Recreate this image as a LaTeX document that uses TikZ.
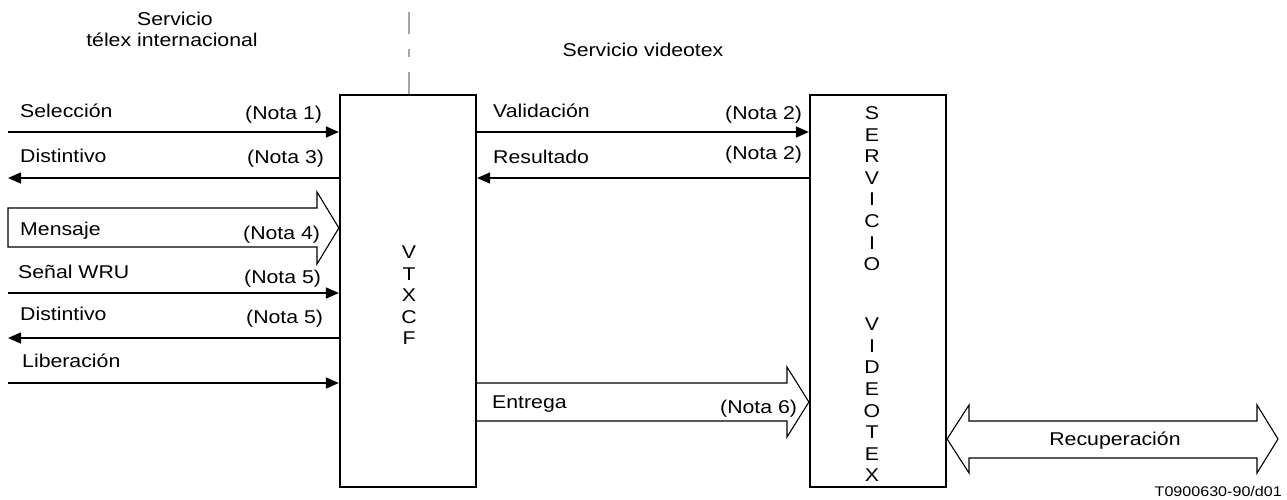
\documentclass[tikz,border=0pt]{standalone}
\usepackage{fontspec}
\setmainfont[FakeStretch=1.15]{Liberation Sans}
\usetikzlibrary{arrows.meta}
\begin{document}
\begin{tikzpicture}[x=1pt,y=-1pt,
  lbl/.style={inner sep=0pt,anchor=base west,font=\fontsize{18.5}{21.6}\selectfont},
  lblc/.style={inner sep=0pt,anchor=base,font=\fontsize{18.5}{21.6}\selectfont},
  stack/.style={inner sep=0pt,anchor=north,align=center,font=\fontsize{18.5}{21.6}\selectfont},
  boxnode/.style={draw,line width=2.2pt,minimum width=136pt,minimum height=392pt,inner sep=0pt},
  sig/.style={line width=1.6pt,-{Triangle[length=13pt,width=11pt]}},
  fat/.style={line width=1.1pt,line join=miter},
  sep/.style={draw=gray!70,line width=1.1pt,dash pattern=on 22pt off 15pt on 8pt off 15pt}]
\useasboundingbox (0,0) rectangle (1287,499);

% boxes
\node[boxnode] (vtx) at (408,291) {};
\node[boxnode] (svc) at (878,291) {};
\node[stack] (vtxtxt) at (409,245.5) {V\\T\\X\\C\\F};
\node[stack] (svctxt) at (872,106.4) {S\\E\\R\\V\\I\\C\\I\\O\\[38.4pt]V\\I\\D\\E\\O\\T\\E\\X};

% separator
\coordinate (dtop) at (409,12);
\draw[sep] (dtop) -- (dtop |- vtx.north);

% headings
\node[lblc] (h1) at (175,25) {Servicio};
\node[lblc] (h2) at (172,46) {télex internacional};
\node[lblc] (h3) at (643,56) {Servicio videotex};

% left side signals
\coordinate (selL) at (8,132);
\draw[sig] (selL) -- (selL -| vtx.west);
\node[lbl] (tsel) at (20,117) {Selección};
\node[lbl] (n1) at (245,119) {(Nota 1)};

\coordinate (dis1L) at (8,178);
\draw[sig] (dis1L -| vtx.west) -- (dis1L);
\node[lbl] (tdis1) at (20,162) {Distintivo};
\node[lbl] (n3) at (247,163) {(Nota 3)};

\coordinate (mtip) at (340,228);
\draw[fat] (8,208) -- (317,208) -- (317,192) -- (mtip -| vtx.west) -- (317,264) -- (317,247) -- (8,247) -- cycle;
\node[lbl] (tmen) at (20,235) {Mensaje};
\node[lbl] (n4) at (243,239) {(Nota 4)};

\coordinate (wruL) at (8,293);
\draw[sig] (wruL) -- (wruL -| vtx.west);
\node[lbl] (twru) at (18,278) {Señal WRU};
\node[lbl] (n5a) at (244,283) {(Nota 5)};

\coordinate (dis2L) at (8,338);
\draw[sig] (dis2L -| vtx.west) -- (dis2L);
\node[lbl] (tdis2) at (20,320) {Distintivo};
\node[lbl] (n5b) at (246,323) {(Nota 5)};

\coordinate (libL) at (8,383);
\draw[sig] (libL) -- (libL -| vtx.west);
\node[lbl] (tlib) at (22,367) {Liberación};

% middle signals
\coordinate (valY) at (600,132);
\draw[sig] (vtx.east |- valY) -- (svc.west |- valY);
\node[lbl] (tval) at (493,117) {Validación};
\node[lbl] (n2a) at (725,119) {(Nota 2)};

\coordinate (resY) at (600,178);
\draw[sig] (svc.west |- resY) -- (vtx.east |- resY);
\node[lbl] (tres) at (493,163) {Resultado};
\node[lbl] (n2b) at (725,159) {(Nota 2)};

\coordinate (etip) at (810,402);
\draw[fat] (vtx.east |- 0,383) -- (787,383) -- (787,367) -- (etip -| svc.west) -- (787,437) -- (787,421) -- (vtx.east |- 0,421);
\node[lbl] (tent) at (492,408) {Entrega};
\node[lbl] (n6) at (720,413) {(Nota 6)};

% retrieval double arrow
\coordinate (rtip) at (1278,439);
\draw[fat] (svc.east |- rtip) -- (969,405) -- (969,421) -- (1257,421) -- (1257,405) -- (rtip) -- (1257,473) -- (1257,458) -- (969,458) -- (969,473) -- cycle;
\node[lblc] (trec) at (1115,445) {Recuperación};

\node[inner sep=0pt,anchor=base east,font=\fontsize{14}{16}\selectfont] (code) at (1282,496) {T0900630-90/d01};
\end{tikzpicture}
\end{document}
